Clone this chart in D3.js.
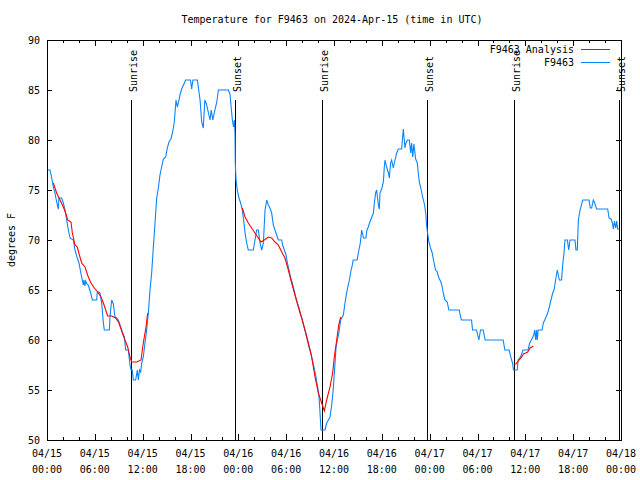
<!DOCTYPE html>
<html><head><meta charset="utf-8">
<script src="https://cdn.jsdelivr.net/npm/d3@7"></script>
<style>
body{margin:0;background:#fff;}
svg text{font-family:"DejaVu Sans Mono",monospace;font-size:10px;fill:#000;}
</style></head><body>
<svg id="chart" width="640" height="480"></svg>
<script>
const title = "Temperature for F9463 on 2024-Apr-15 (time in UTC)";
const yLabel = "degrees F";
const yTicks = [50,55,60,65,70,75,80,85,90];
const xTickHours = [0,6,12,18,24,30,36,42,48,54,60,66,72];
const xTickDates = ["04/15","04/15","04/15","04/15","04/16","04/16","04/16","04/16","04/17","04/17","04/17","04/17","04/18"];
const xTickTimes = ["00:00","06:00","12:00","18:00","00:00","06:00","12:00","18:00","00:00","06:00","12:00","18:00","00:00"];
const sunLabels = ["Sunrise","Sunset","Sunrise","Sunset","Sunrise","Sunset"];
const sunHours = [10.54,23.6,34.53,47.7,58.62,71.8];
const seriesNames = ["F9463 Analysis","F9463"];
const seriesColors = ["#ff0000","#0a84ff"];

// F9463 observations: [hours since 04/15 00:00 UTC, degrees F]
const f9463 = [[0.1,77],[0.38,77],[0.59,76.2],[0.79,75.3],[1.0,74.7],[1.21,73.8],[1.42,73.1],[1.5,74.2],[1.84,74.2],[2.05,73.7],[2.26,73],[2.47,72],[2.68,71],[2.89,70.2],[3.3,70],[3.51,69],[3.8,68.2],[4.01,67.7],[4.22,66.8],[4.43,66],[4.55,65.5],[4.64,66],[4.75,65.4],[4.85,65.9],[5.0,65.6],[5.18,65.5],[5.48,64.7],[5.69,64],[6.23,64],[6.31,64.8],[6.5,64.8],[6.65,64.7],[6.86,63.7],[7.07,61.7],[7.19,61],[7.82,61],[7.9,62.3],[8.11,64],[8.32,63.6],[8.53,62.3],[8.74,62.2],[8.95,62],[9.16,61.5],[9.45,60.8],[9.7,60.3],[9.87,59],[10.2,59],[10.41,57.5],[10.54,57],[10.7,57],[10.83,56],[11.12,56],[11.33,57],[11.46,56],[11.6,57],[11.75,56.8],[11.88,57.7],[12.08,58.3],[12.29,59.7],[12.5,61],[12.71,62.7],[12.92,65],[13.13,66.7],[13.34,69.3],[13.55,71.7],[13.76,74.2],[13.97,75.2],[14.17,76.5],[14.38,77.3],[14.59,78.1],[14.89,78.3],[15.09,79.2],[15.3,79.8],[15.55,80.1],[15.76,80.8],[15.97,81.8],[16.18,84],[16.35,83.3],[16.56,84],[16.68,84.5],[16.89,85.1],[17.23,85.7],[17.39,86],[18.0,86],[18.15,85.1],[18.3,86],[18.86,86],[19.0,85.2],[19.2,84],[19.4,81.8],[19.6,81.2],[19.8,84],[20.0,83.6],[20.25,82.7],[20.45,82],[20.6,83],[20.8,82],[21.0,82.8],[21.3,83.8],[21.5,85],[22.75,85],[22.95,84.6],[23.1,83.3],[23.25,82],[23.4,81.3],[23.5,82],[23.58,80.7],[23.62,77.7],[23.71,76],[23.87,75],[24.08,74.2],[24.29,73.7],[24.5,73],[24.71,71.7],[24.84,70.7],[25.05,69.7],[25.25,69],[25.88,69],[26.09,70],[26.3,71],[26.51,71],[26.72,69.7],[26.93,69],[27.14,69.7],[27.35,73],[27.56,74],[27.76,73.5],[27.97,73.2],[28.18,72.7],[28.39,71.5],[28.6,71],[28.81,70.5],[29.02,70],[29.44,70],[29.56,69.5],[29.77,69],[29.98,68.5],[30.15,67.7],[30.36,67],[30.57,66.2],[30.77,65.7],[30.98,65],[31.19,64.3],[31.4,63.7],[31.61,63.2],[31.82,62.5],[32.03,62],[32.24,61.3],[32.45,60.7],[32.66,60],[32.87,59.3],[33.07,58.8],[33.28,58],[33.49,57.3],[33.7,56.5],[33.91,55.5],[34.12,54.3],[34.25,52.7],[34.37,51],[34.87,51],[35.08,51.7],[35.29,52],[35.5,52.3],[35.71,53.5],[35.9,55],[36.13,57.7],[36.26,59.3],[36.42,60],[36.63,60.8],[36.84,62],[37.17,62.5],[37.38,63.7],[37.5,64.3],[37.7,65.2],[37.93,66],[38.1,66.8],[38.3,67.5],[38.4,68],[38.9,68],[39.05,68.7],[39.3,69.7],[39.47,71],[39.7,70.2],[40.0,70.2],[40.13,71],[40.3,71.3],[40.5,71.8],[40.7,72.2],[40.94,72.7],[41.06,73.7],[41.22,74.7],[41.35,75],[41.56,73.5],[41.69,73.1],[41.77,74.7],[41.98,75.1],[42.19,75.8],[42.31,77.3],[42.4,78],[42.6,77.3],[42.82,76.7],[42.94,76.2],[43.1,77.7],[43.23,78],[43.44,77.2],[43.65,78],[43.86,78.7],[44.07,79.1],[44.49,79.1],[44.61,80.3],[44.7,81.1],[44.9,79.2],[45.03,79.7],[45.2,80],[45.45,80],[45.62,78.7],[45.74,79.7],[45.87,78.3],[46.03,79.6],[46.24,78.1],[46.45,77.7],[46.57,76.7],[46.7,75.8],[46.86,75.3],[46.99,74.8],[47.11,74.3],[47.28,73.8],[47.4,73.3],[47.53,72.5],[47.61,71.5],[47.74,70.7],[47.9,69.8],[48.11,69.2],[48.32,68.7],[48.53,67.8],[48.74,67],[48.95,66.8],[49.16,66.2],[49.41,65.8],[49.58,65.3],[49.7,64.7],[49.91,64],[50.2,63.8],[50.41,63],[51.71,63],[51.88,62.3],[52.0,62],[53.25,62],[53.38,61],[53.88,61],[54.17,60],[54.38,61],[54.71,61],[54.96,60],[57.22,60],[57.43,59],[57.97,59],[58.18,58.3],[58.39,57.7],[58.52,57],[58.98,57],[59.1,58],[59.3,58.2],[59.5,58.5],[59.71,59],[60.34,59],[60.55,59.7],[60.76,60],[61.05,60.5],[61.17,61],[61.3,60],[61.4,61],[61.5,60],[61.6,61],[62.1,61],[62.26,61.7],[62.43,62],[62.6,62.3],[62.8,62.7],[63.01,63.3],[63.22,64],[63.43,64.7],[63.6,65],[63.8,66],[64.01,67],[64.26,66],[64.55,66],[64.68,67.5],[64.85,68.7],[64.97,70],[65.27,70],[65.44,69],[65.6,70],[65.81,70],[66.23,70],[66.35,69],[66.52,69],[66.65,72],[66.86,73],[67.2,74],[67.99,74],[68.15,73.2],[68.32,73.2],[68.53,74],[68.7,73.7],[68.94,73.1],[70.33,73.1],[70.5,72.2],[70.75,72.1],[70.92,71.7],[71.05,71.1],[71.17,71.9],[71.33,71.2],[71.46,71.9],[71.58,71.1],[71.8,71.1]];

// Analysis segments
const analysisDay1 = [[0.79,75.7],[1.21,74.7],[1.63,74],[2.05,73.3],[2.34,72.7],[2.59,72],[3.01,71.8],[3.18,70.7],[3.51,69.5],[3.8,69.3],[4.06,68.5],[4.35,67.7],[4.77,67.3],[5.18,66.3],[5.52,65.7],[5.94,65.2],[6.36,64.8],[6.77,64.3],[7.07,63.7],[7.36,63],[7.61,62.4],[8.11,62.4],[8.61,62.2],[9.03,61.7],[9.45,60.7],[9.78,60],[10.12,59.3],[10.41,58.3],[10.62,57.8],[11.25,57.8],[11.79,58],[12.08,59.7],[12.42,61.3],[12.63,62.7]];
const analysisDay2 = [[24.5,73.2],[24.84,72.3],[25.25,71.7],[25.67,71.2],[26.09,70.7],[26.51,70.2],[26.84,69.8],[27.26,70],[27.76,70.3],[28.18,70.2],[28.6,69.8],[29.02,69.5],[29.44,68.8],[29.85,68.2],[30.27,67],[30.69,65.7],[31.11,64.5],[31.53,63.3],[31.95,62.2],[32.36,61],[32.78,59.7],[33.2,58.3],[33.62,56.3],[34.04,54.7],[34.45,53.7],[34.79,52.9],[35.08,54],[35.5,55.3],[35.83,56.7],[36.04,58.3],[36.34,60],[36.59,61.5],[36.84,62.3]];
const analysisDay3 = [[58.62,57.6],[58.8,57.6],[59.12,57.9],[59.3,58.1],[59.54,58.3],[59.75,58.6],[60.04,58.7],[60.3,58.8],[60.59,59.2],[61.0,59.4]];

const svg = d3.select("#chart");
const L = 47, R = 621, T = 40, B = 440;
const x = d3.scaleLinear().domain([0,72]).range([L,R]);
const y = d3.scaleLinear().domain([50,90]).range([B,T]);

svg.append("rect").attr("width",640).attr("height",480).attr("fill","#fff");

// title
svg.append("text").attr("x",332).attr("y",23).attr("text-anchor","middle").text(title);
// y label
svg.append("text").attr("transform","translate(15,240) rotate(-90)").attr("text-anchor","middle").text(yLabel);

function styleAxis(g){
  g.select(".domain").remove();
  g.selectAll("line").attr("stroke","#000").attr("shape-rendering","crispEdges");
  g.selectAll("text").remove();
}
// y ticks left/right
svg.append("g").attr("transform",`translate(${L},0)`)
  .call(d3.axisLeft(y).tickValues(yTicks).tickSize(-5)).call(styleAxis);
svg.append("g").attr("transform",`translate(${R},0)`)
  .call(d3.axisRight(y).tickValues(yTicks).tickSize(-5)).call(styleAxis);
// x ticks bottom/top, minor every 2h, major every 6h
const minorHours = d3.range(0,73,2);
[[B,d3.axisBottom],[T,d3.axisTop]].forEach(([yy,ax])=>{
  svg.append("g").attr("transform",`translate(0,${yy})`)
    .call(ax(x).tickValues(minorHours).tickSize(-3)).call(styleAxis);
  svg.append("g").attr("transform",`translate(0,${yy})`)
    .call(ax(x).tickValues(xTickHours).tickSize(-6)).call(styleAxis);
});

// y tick labels
svg.append("g").selectAll("text").data(yTicks).join("text")
  .attr("x",L-7).attr("y",d=>y(d)+4).attr("text-anchor","end").text(d=>d);
// x tick labels
const xl = svg.append("g").selectAll("text").data(xTickHours).join("text")
  .attr("text-anchor","middle");
xl.append("tspan").attr("x",d=>x(d)).attr("y",B+17).text((d,i)=>xTickDates[i]);
xl.append("tspan").attr("x",d=>x(d)).attr("y",B+33).text((d,i)=>xTickTimes[i]);

// plot frame
svg.append("rect").attr("x",L).attr("y",T).attr("width",R-L).attr("height",B-T)
  .attr("fill","none").attr("stroke","#000").attr("shape-rendering","crispEdges");

// sunrise / sunset markers
const sg = svg.append("g").selectAll("g").data(sunHours).join("g");
sg.append("line").attr("x1",d=>x(d)).attr("x2",d=>x(d)).attr("y1",100).attr("y2",B)
  .attr("stroke","#000").attr("shape-rendering","crispEdges");
sg.append("text").attr("transform",d=>`translate(${x(d)+5.5},92) rotate(-90)`)
  .attr("text-anchor","start").text((d,i)=>sunLabels[i]);

// lines
const line = d3.line().x(d=>x(d[0])).y(d=>y(d[1]));
svg.append("path").datum(f9463).attr("d",line).attr("fill","none")
  .attr("stroke",seriesColors[1]).attr("stroke-width",1.1);
[analysisDay1,analysisDay2,analysisDay3].forEach(seg=>{
  svg.append("path").datum(seg).attr("d",line).attr("fill","none")
    .attr("stroke",seriesColors[0]).attr("stroke-width",1.1);
});

// legend
const lg = svg.append("g").selectAll("g").data(seriesNames).join("g");
lg.append("text").attr("x",574).attr("y",(d,i)=>53+i*13).attr("text-anchor","end").text(d=>d);
lg.append("line").attr("x1",581).attr("x2",610).attr("y1",(d,i)=>49.5+i*13).attr("y2",(d,i)=>49.5+i*13)
  .attr("stroke",(d,i)=>seriesColors[i]).attr("stroke-width",1);
</script>
</body></html>
